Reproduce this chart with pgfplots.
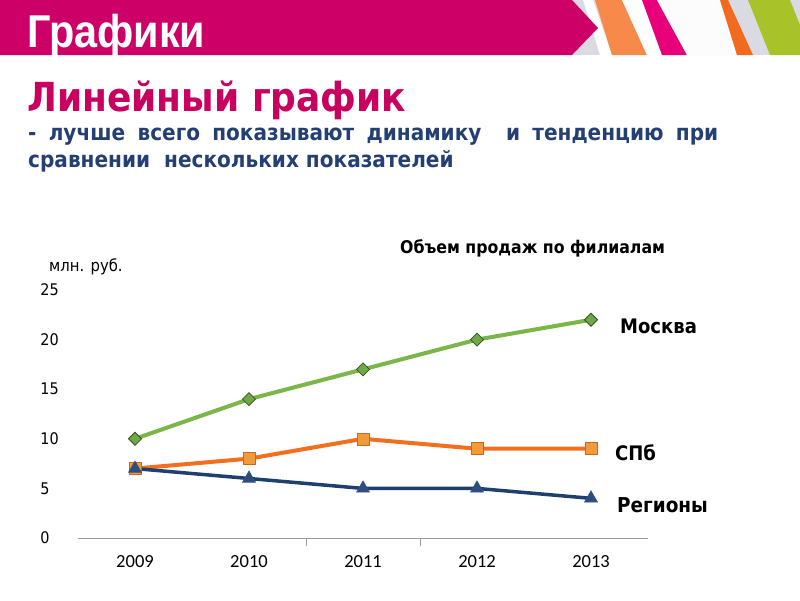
\documentclass[border=0pt]{standalone}
\usepackage{fontspec}
\setmainfont{Liberation Sans}
\newfontfamily\dejavu{DejaVu Sans}
\newfontfamily\tahoma[FakeStretch=0.9]{DejaVu Sans}
\newfontfamily\carlito{Carlito}
\newfontfamily\narrow[FakeStretch=0.9]{Liberation Sans}
\usepackage{pgfplots}
\pgfplotsset{compat=1.18}

\definecolor{barmag}{HTML}{CC0066}
\definecolor{titlemag}{HTML}{C8005F}
\definecolor{navy}{HTML}{243F73}
\definecolor{stripebg}{HTML}{DADAE2}
\definecolor{stripeor}{HTML}{F7894A}
\definecolor{stripepk}{HTML}{E8007A}
\definecolor{stripeor2}{HTML}{F26A1E}
\definecolor{stripegr}{HTML}{A8C22A}
\definecolor{mgreen}{HTML}{7AB648}
\definecolor{mgreenfill}{HTML}{6FA944}
\definecolor{mgreenedge}{HTML}{34502A}
\definecolor{morange}{HTML}{F26F1F}
\definecolor{morangefill}{HTML}{F39A3A}
\definecolor{morangeedge}{HTML}{C86A1E}
\definecolor{mblue}{HTML}{1F3F70}
\definecolor{mbluefill}{HTML}{2B4E82}

\begin{document}
\begin{tikzpicture}[x=1pt,y=1pt]
\useasboundingbox (0,0) rectangle (800,-600);
\fill[white] (0,0) rectangle (800,-600);

% header stripes
\fill[stripebg] (560,0) rectangle (800,-55);
\fill[white] (583,0) -- (593,0) -- (612,-55) -- (600,-55) -- cycle;
\fill[stripeor] (595,0) -- (622,0) -- (647,-55) -- (612,-55) -- cycle;
\fill[white] (622,0) -- (642,0) -- (662,-55) -- (647,-55) -- cycle;
\fill[stripepk] (642,0) -- (657,0) -- (687,-55) -- (662,-55) -- cycle;
\fill[white!92!stripebg] (657,0) -- (720,0) -- (737,-55) -- (687,-55) -- cycle;
\fill[stripeor2] (720,0) -- (728,0) -- (753,-55) -- (737,-55) -- cycle;
\fill[stripegr] (748,0) -- (790,0) -- (800,-25) -- (800,-55) -- (770,-55) -- cycle;
\fill[barmag] (0,0) -- (572,0) -- (598,-28) -- (572,-55) -- (0,-55) -- cycle;
\node[anchor=base west, inner sep=0, text=white] at (27,-47)
  {\narrow\bfseries\fontsize{46}{46}\selectfont Графики};

% titles
\node[anchor=base west, inner sep=0, text=titlemag] at (27,-111)
  {\tahoma\bfseries\fontsize{40}{40}\selectfont Линейный график};
\node[anchor=base west, inner sep=0, text=navy] at (28,-140)
  {\tahoma\bfseries\fontsize{22.3}{22.3}\selectfont\makebox[690pt][s]{- лучше всего показывают динамику \ и тенденцию при}};
\node[anchor=base west, inner sep=0, text=navy] at (28,-167)
  {\tahoma\bfseries\fontsize{22.3}{22.3}\selectfont сравнении\ \ нескольких показателей};

% chart texts
\node[anchor=base west, inner sep=0] at (400,-253)
  {\tahoma\bfseries\fontsize{17.5}{17.5}\selectfont Объем продаж по филиалам};
\node[anchor=base west, inner sep=0] at (49,-271)
  {\tahoma\fontsize{16.5}{16.5}\selectfont млн. руб.};

\begin{axis}[
    at={(78pt,-538pt)}, anchor=south west,
    width=570pt, height=248pt, scale only axis,
    xmin=-0.5, xmax=4.5, ymin=0, ymax=25,
    clip=false,
    axis x line=bottom, axis y line=left,
    x axis line style={-, draw=gray!80, line width=0.8pt},
    y axis line style={draw=none},
    xtick={0,1,2,3,4},
    xticklabels={2009,2010,2011,2012,2013},
    xtick style={draw=none},
    extra x ticks={1.5,2.5},
    extra x tick labels={},
    extra x tick style={xtick style={draw=gray!80, line width=0.8pt}, major tick length=8pt, tick align=outside},
    ytick={0,5,10,15,20,25},
    ytick style={draw=none},
    /pgf/number format/assume math mode=true,
    yticklabel style={font=\tahoma\fontsize{16}{16}\selectfont, anchor=west, xshift=-39pt},
    xticklabel style={font=\carlito\fontsize{18.5}{18.5}\selectfont, yshift=-12pt},
]
\addplot[color=mgreen, line width=4pt, mark=square*, mark size=4.6pt,
  mark options={rotate=45, fill=mgreenfill, draw=mgreenedge, line width=0.8pt}]
  coordinates {(0,10) (1,14) (2,17) (3,20) (4,22)};
\addplot[color=morange, line width=4pt, mark=square*, mark size=6pt,
  mark options={fill=morangefill, draw=morangeedge, line width=0.6pt}]
  coordinates {(0,7) (1,8) (2,10) (3,9) (4,9)};
\addplot[color=mblue, line width=3.5pt, mark=triangle*, mark size=7.5pt,
  mark options={fill=mbluefill, draw=mblue!70!gray, line width=0.6pt}]
  coordinates {(0,7) (1,6) (2,5) (3,5) (4,4)};
\end{axis}

% series labels
\node[anchor=west, inner sep=0] at (620,-326) {\tahoma\bfseries\fontsize{20}{20}\selectfont Москва};
\node[anchor=west, inner sep=0] at (615,-453) {\tahoma\bfseries\fontsize{20}{20}\selectfont СПб};
\node[anchor=west, inner sep=0] at (617,-505) {\tahoma\bfseries\fontsize{20.5}{20.5}\selectfont Регионы};
\end{tikzpicture}
\end{document}
